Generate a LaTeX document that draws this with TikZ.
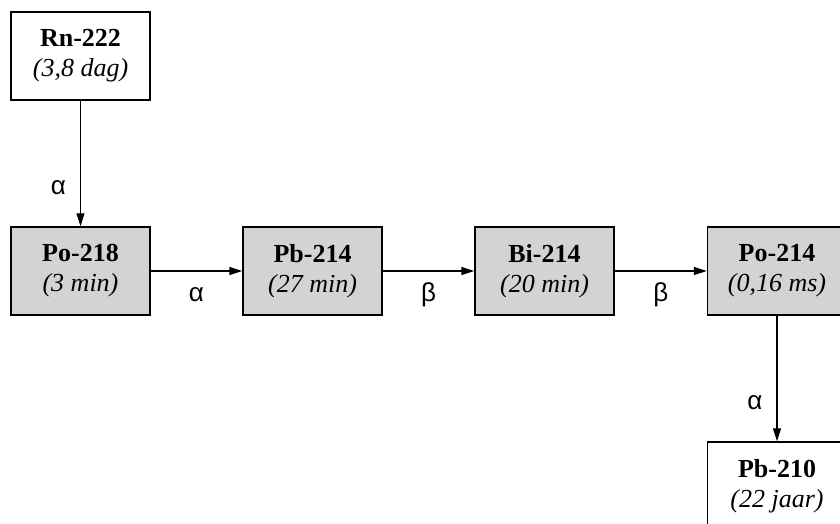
\documentclass[tikz,border=0pt]{standalone}
\usepackage{fontspec}
\setmainfont{Liberation Serif}
\newfontfamily\greekfont{Liberation Sans}
\usetikzlibrary{arrows.meta}
\definecolor{chaingray}{RGB}{211,211,213}

\begin{document}
\begin{tikzpicture}[x=0.5pt,y=-0.5pt]
\tikzstyle{every node}+=[font=\fontsize{13}{15}\selectfont]
\tikzstyle{nuclide}=[draw,line width=0.75pt,minimum width=69.5pt,minimum height=44pt,align=center,inner sep=0pt]
\tikzstyle{chain}=[nuclide,fill=chaingray]
\tikzstyle{decay}=[-{Triangle[length=6.5pt,width=4pt]},line width=0.6pt]
\tikzstyle{ray}=[font=\greekfont\fontsize{13}{15}\selectfont,inner sep=0pt]
\useasboundingbox (0,0) rectangle (840,524);
\clip (0,0) rectangle (840,524);
\node [nuclide] (rn222) at (80.5,56) {\textbf{Rn-222}\\\textit{(3,8 dag)}};
\node [chain] (po218) at (80.5,271) {\textbf{Po-218}\\\textit{(3 min)}};
\node [chain] (pb214) at (312.5,271) {\textbf{Pb-214}\\\textit{(27 min)}};
\node [chain] (bi214) at (544.5,271) {\textbf{Bi-214}\\\textit{(20 min)}};
\node [chain] (po214) at (777,271) {\textbf{Po-214}\\\textit{(0,16 ms)}};
\node [nuclide] (pb210) at (777,486) {\textbf{Pb-210}\\\textit{(22 jaar)}};
\draw [decay] (rn222) -- (po218) node [ray,pos=0.69,left=7pt] {α};
\draw [decay] (po218) -- (pb214) node [ray,midway,anchor=base,yshift=-15pt] {α};
\draw [decay] (pb214) -- (bi214) node [ray,midway,anchor=base,yshift=-15pt] {β};
\draw [decay] (bi214) -- (po214) node [ray,midway,anchor=base,yshift=-15pt] {β};
\draw [decay] (po214) -- (pb210) node [ray,pos=0.69,left=7pt] {α};
\end{tikzpicture}
\end{document}
